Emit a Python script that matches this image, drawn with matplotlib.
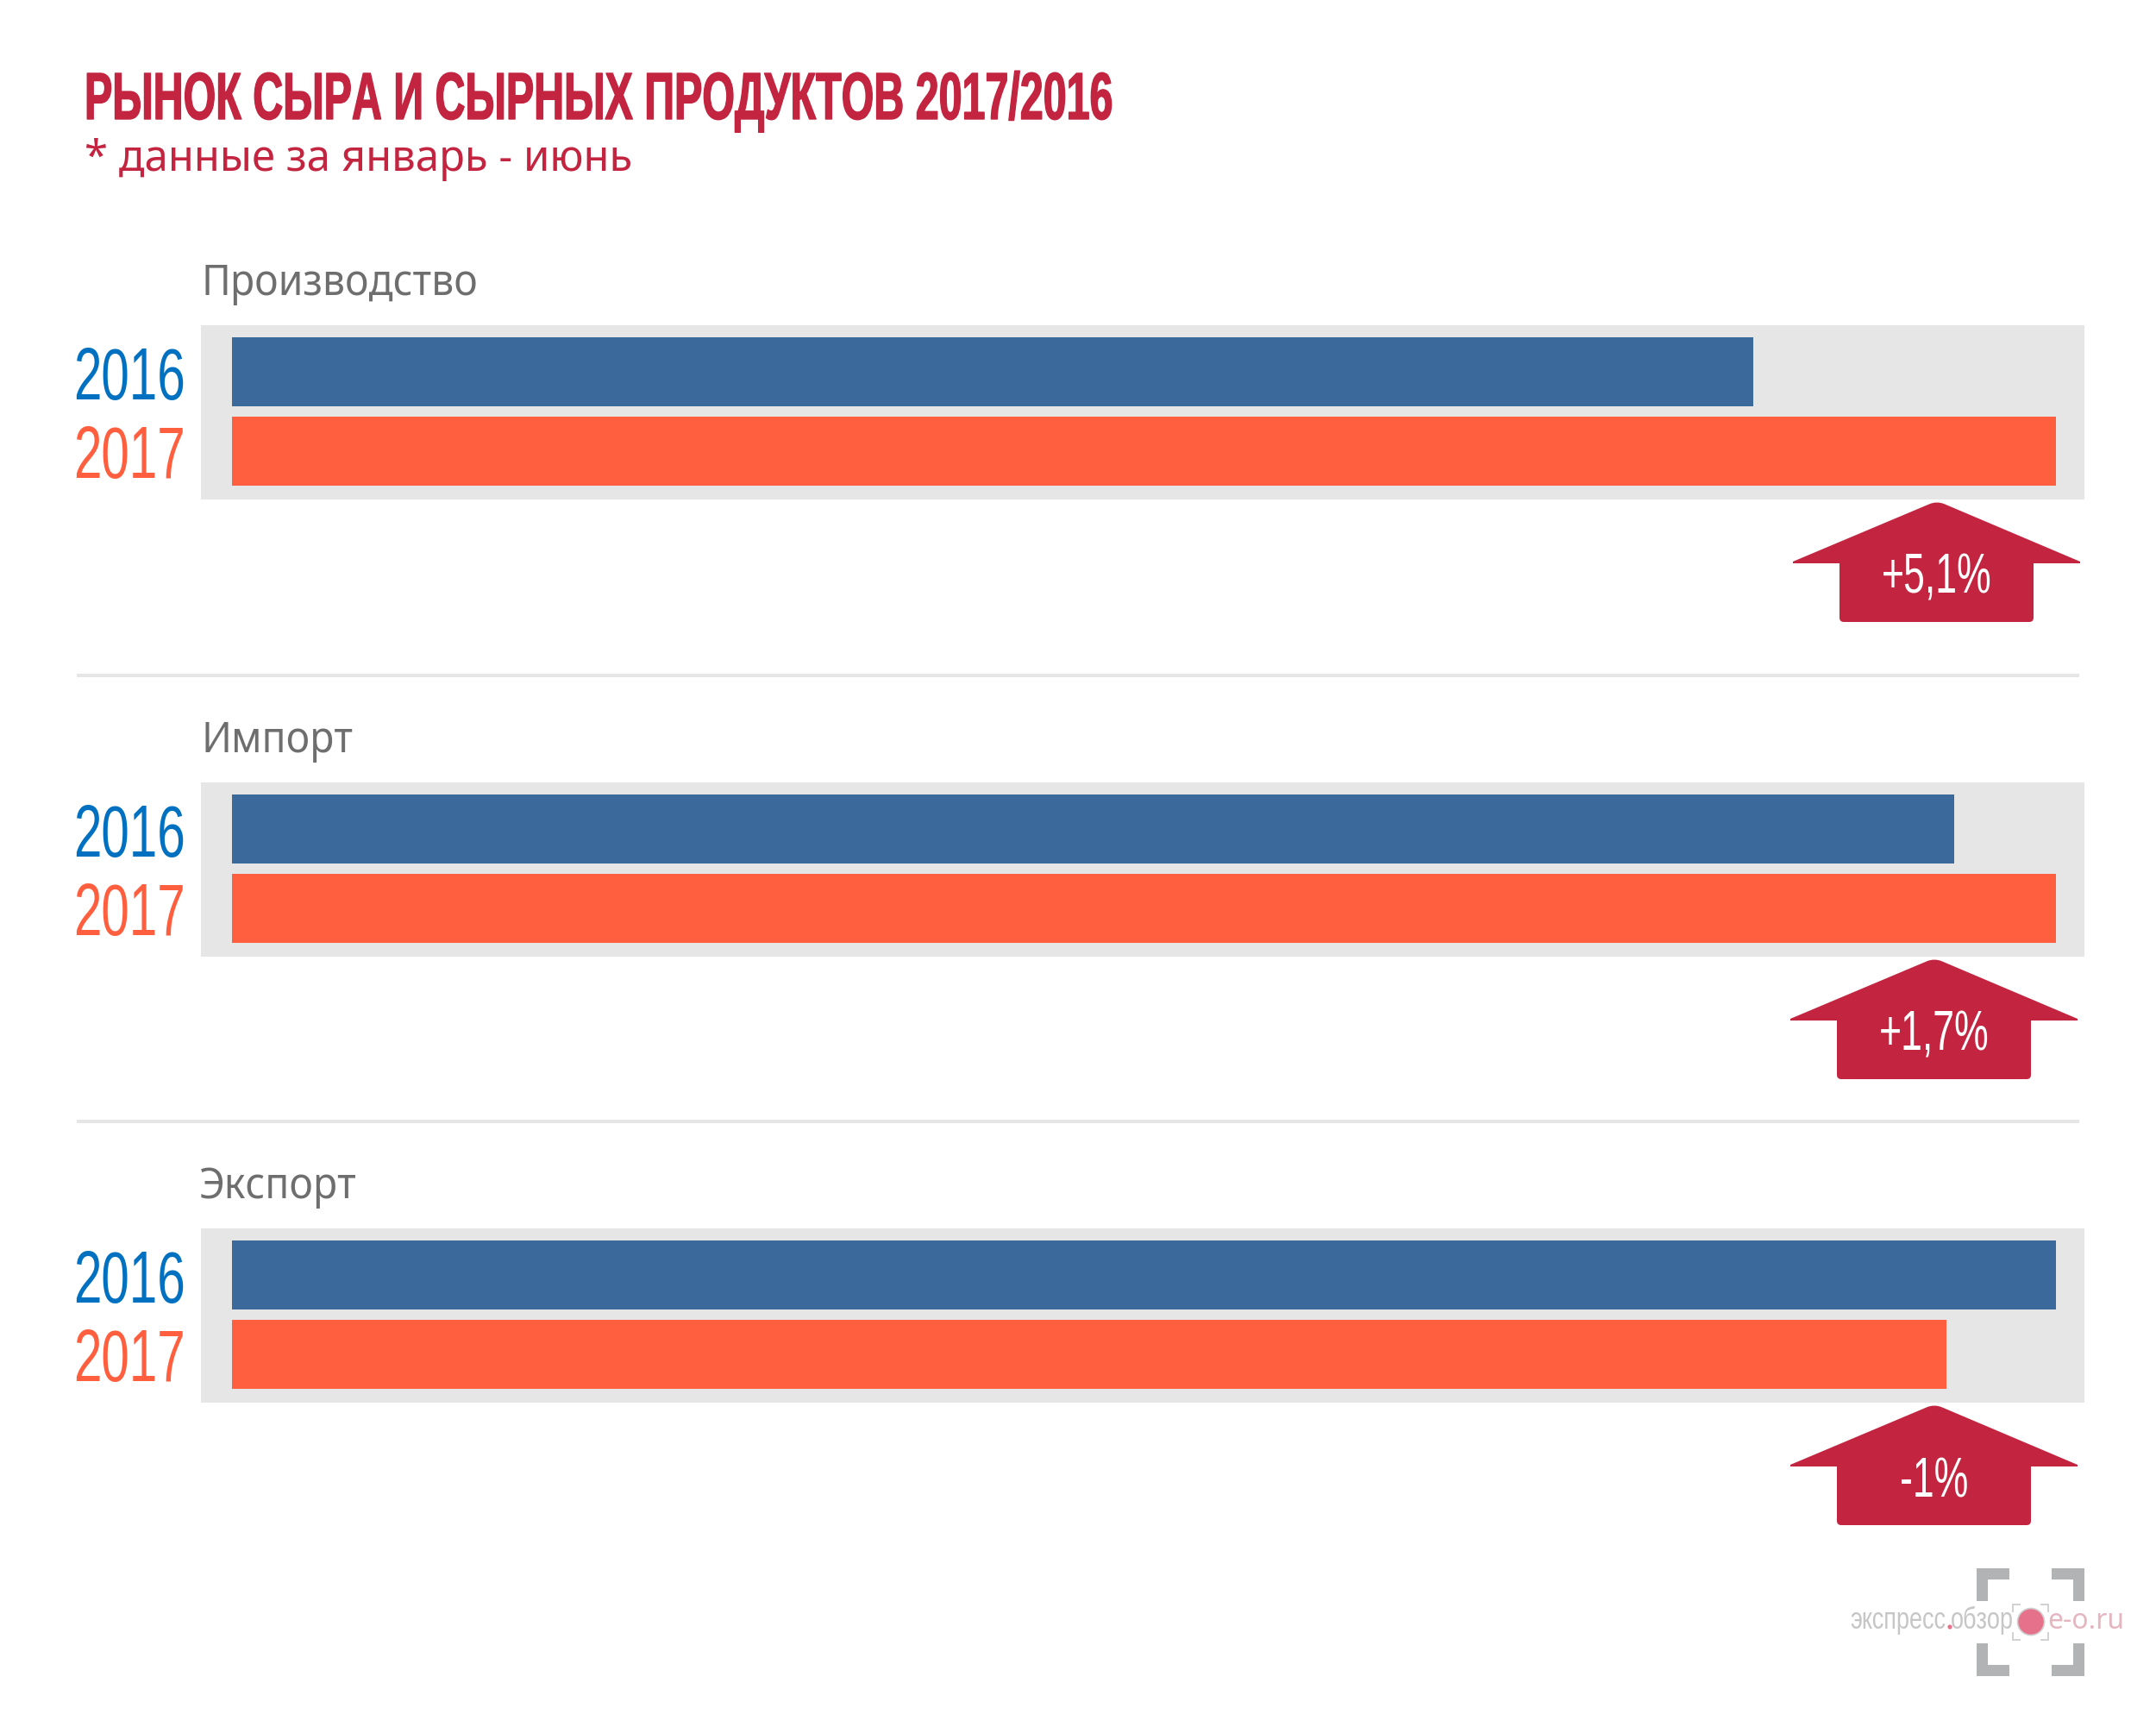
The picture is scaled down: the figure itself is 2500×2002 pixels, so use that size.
import matplotlib
matplotlib.use("Agg")
import matplotlib.pyplot as plt
import matplotlib.patheffects as pe
from matplotlib.patches import PathPatch, Rectangle, Circle
from matplotlib.path import Path
from matplotlib import font_manager as fm
from matplotlib.font_manager import FontProperties as FP
from fontTools.ttLib import TTFont

W, H = 2500, 2002

sections = ["Производство", "Импорт", "Экспорт"]
years = ["2016", "2017"]
values_2016 = [83.4, 94.4, 100.0]
values_2017 = [100.0, 100.0, 94.0]
changes = ["+5,1%", "+1,7%", "-1%"]
title = "РЫНОК СЫРА И СЫРНЫХ ПРОДУКТОВ 2017/2016"
subtitle = "* данные за январь - июнь"

RED = "#C32541"; BLUE = "#3B699C"; ORANGE = "#FF5F3E"; GREY = "#E6E6E6"
panel_tops = [377, 907, 1424]
arrow_dx = [0, -3, -3]


def condensed(family, weight, scale, tag):
    """Narrow a copy of an installed font horizontally; returns its FontProperties."""
    src = fm.findfont(FP(family=family, weight=weight))
    try:
        f = TTFont(src)
        glyf = f["glyf"]
        hmtx = f["hmtx"]
        for t in ["fvar", "gvar", "HVAR", "MVAR", "avar", "STAT", "kern", "GPOS", "GSUB",
                  "fpgm", "prep", "cvt ", "hdmx", "VDMX", "LTSH"]:
            if t in f:
                del f[t]
        names = list(glyf.keys())
        for n in names:
            g = glyf[n]
            if not g.isComposite() and g.numberOfContours > 0:
                g.coordinates.scale((scale, 1))
                g.coordinates.toInt()
                g.removeHinting()
                g.recalcBounds(glyf)
        for n in names:
            g = glyf[n]
            if g.isComposite():
                for c in g.components:
                    c.x = int(round(c.x * scale))
                g.removeHinting()
                g.recalcBounds(glyf)
        for n in names:
            a, l = hmtx[n]
            hmtx[n] = (int(round(a * scale)), int(round(l * scale)))
        for rec in f["name"].names:
            if rec.nameID in (1, 3, 4, 6, 16):
                rec.string = f"Cond{tag}"
        path = f"cond_{tag}.ttf"
        f.save(path)
        fm.fontManager.addfont(path)
        return FP(fname=path)
    except Exception as e:
        print("condense failed", tag, e)
        return FP(family=family, weight=weight)


f_title = condensed("Liberation Sans", "bold", 0.628, "title")
f_num = condensed("Liberation Sans", "normal", 0.684, "num")
f_sec = condensed("Noto Sans", "normal", 0.925, "sec")
f_logo = condensed("Liberation Sans", "normal", 0.78, "logo")

fig = plt.figure(figsize=(W/100, H/100), dpi=100, facecolor="white")
ov = fig.add_axes([0, 0, 1, 1], zorder=5)
ov.set_xlim(0, W); ov.set_ylim(H, 0); ov.axis("off")

t = ov.text(98, 138, title, color=RED, fontproperties=f_title, va="baseline")
t.set_fontsize(55.5)
t.set_path_effects([pe.withStroke(linewidth=1.0, foreground=RED)])
ov.text(98, 198, subtitle, color=RED, fontsize=35.3, family="Noto Sans", va="baseline")


def arrow_path(cx, top, dx):
    yt, yw, yb = top + 204, top + 275, top + 344
    l, r = 2133 + dx, 2358 + dx
    wl, wr = 2079 + dx, 2412 + dx
    rc = 5
    v = [(cx - 8, yt + 3), (cx, yt), (cx + 8, yt + 3),
         (wr, yw - 1), (wr, yw + 1), (r, yw + 1),
         (r, yb - rc), (r, yb), (r - rc, yb),
         (l + rc, yb), (l, yb), (l, yb - rc),
         (l, yw + 1), (wl, yw + 1), (wl, yw - 1), (cx - 8, yt + 3)]
    c = [Path.MOVETO, Path.CURVE3, Path.CURVE3,
         Path.LINETO, Path.LINETO, Path.LINETO,
         Path.LINETO, Path.CURVE3, Path.CURVE3,
         Path.LINETO, Path.CURVE3, Path.CURVE3,
         Path.LINETO, Path.LINETO, Path.LINETO, Path.CLOSEPOLY]
    return Path(v, c)


for i, top in enumerate(panel_tops):
    ax = fig.add_axes([233/W, 1-(top+202)/H, (2417-233)/W, 202/H], zorder=1)
    ax.set_facecolor(GREY)
    ax.set_xlim((233-269)/21.15, (2417-269)/21.15)
    ax.set_ylim(1.617, -0.59)
    ax.barh([0, 1], [values_2016[i], values_2017[i]], height=0.874, color=[BLUE, ORANGE])
    ax.set_xticks([]); ax.set_yticks([])
    for s in ax.spines.values():
        s.set_visible(False)

    ov.text(233 - (2 if i == 2 else 0), top-35, sections[i], color="#6E6E6E",
            fontproperties=f_sec, va="baseline").set_fontsize(36)
    ov.text(215, top+86, years[0], color="#0070C0", fontproperties=f_num,
            ha="right", va="baseline").set_fontsize(61.5)
    ov.text(215, top+177, years[1], color=ORANGE, fontproperties=f_num,
            ha="right", va="baseline").set_fontsize(61.5)

    dx = arrow_dx[i]
    cx = 2246 + dx
    ov.add_patch(PathPatch(arrow_path(cx, top, dx), fc=RED, ec="none"))
    ov.text(cx, top+311, changes[i], color="white", fontproperties=f_num,
            ha="center", va="baseline").set_fontsize(47)

for y in [783, 1300]:
    ov.plot([89, 2411], [y, y], color=GREY, lw=2.9, solid_capstyle="butt")

# logo
c = "#B2B3B5"
for x0, y0, sx, sy in [(2292, 1818, 1, 1), (2417, 1818, -1, 1), (2292, 1943, 1, -1), (2417, 1943, -1, -1)]:
    ov.add_patch(Rectangle((x0, y0), sx*38, sy*13, fc=c, ec="none"))
    ov.add_patch(Rectangle((x0, y0), sx*13, sy*38, fc=c, ec="none"))
c2 = "#D2D2D2"
for x0, y0, sx, sy in [(2333, 1859, 1, 1), (2376, 1859, -1, 1), (2333, 1902, 1, -1), (2376, 1902, -1, -1)]:
    ov.add_patch(Rectangle((x0, y0), sx*10, sy*2, fc=c2, ec="none"))
    ov.add_patch(Rectangle((x0, y0), sx*2, sy*10, fc=c2, ec="none"))
ov.add_patch(Circle((2355, 1880), 15.5, fc="#E5728A", ec="#CFCFCF", lw=1.2))
ov.text(2145, 1888, "экспресс", color="#C6C6C6", fontproperties=f_logo, ha="left", va="baseline").set_fontsize(25)
ov.text(2335, 1888, "обзор", color="#C6C6C6", fontproperties=f_logo, ha="right", va="baseline").set_fontsize(25)
ov.add_patch(Circle((2261, 1886), 2.6, fc="#E5728A", ec="none", zorder=6))
ov.text(2374, 1888, "e-o.ru", color="#E3B6C0", fontsize=23, family="Noto Sans", ha="left", va="baseline")

fig.savefig("out.png", dpi=100, facecolor="white")
